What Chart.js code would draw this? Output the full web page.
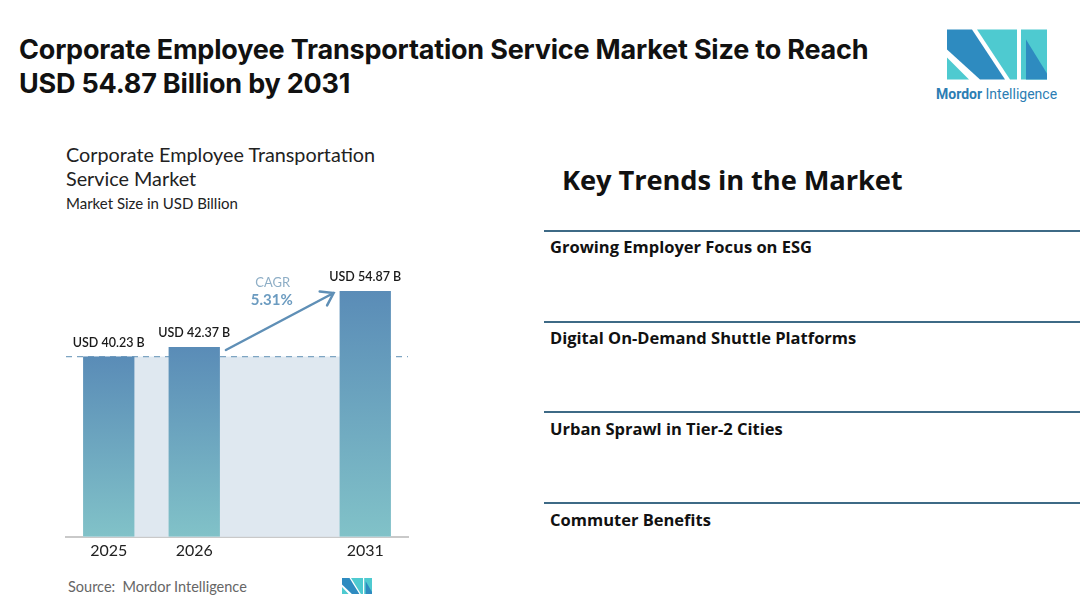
<!DOCTYPE html>
<html>
<head>
<meta charset="utf-8">
<script src="https://cdn.jsdelivr.net/npm/chart.js@4.4.1/dist/chart.umd.min.js"></script>
<style>
  body { margin:0; width:1080px; height:605px; background:#fff; position:relative; overflow:hidden; font-family:Lato, sans-serif; }
  .abs { position:absolute; white-space:nowrap; }
  #title { left:19px; top:33px; font-family:Inter, sans-serif; font-weight:700; font-size:27px; line-height:34px; color:#111; letter-spacing:-0.2px; }
  #sub1 { left:66px; top:142px; font-size:19.8px; line-height:24px; color:#222; }
  #sub2 { left:66px; top:194px; font-size:15px; color:#222; }
  #kt { left:562px; top:161px; font-family:"Open Sans", sans-serif; font-weight:700; font-size:27.3px; color:#111; letter-spacing:-0.1px; }
  .rule { position:absolute; left:544px; width:536px; height:2px; background:#3e6a86; }
  .item { position:absolute; left:550px; font-family:"Open Sans", sans-serif; font-weight:700; font-size:16.5px; color:#111; }
  #src { left:68px; top:578px; font-size:14.5px; color:#666; }
  #brand { left:936px; top:86px; font-family:Roboto, sans-serif; font-size:14px; color:#2c7db3; }
  #wrap { position:absolute; left:40px; top:250px; width:390px; height:320px; }
</style>
</head>
<body>
<div id="title" class="abs">Corporate Employee Transportation Service Market Size to Reach<br>USD 54.87 Billion by 2031</div>

<svg class="abs" style="left:947px;top:29px" width="100" height="51" viewBox="0 0 100 50">
  <polygon points="0,0 25,0 58,50 33,50 0,20" fill="#2e8bc0"/>
  <polygon points="0,28 0,50 22,50" fill="#4ecad0"/>
  <polygon points="30,0 70,0 70,50 63,50" fill="#4ecad0"/>
  <polygon points="74,0 100,0 100,50 74,50" fill="#4ecad0"/>
  <polygon points="79,10 100,44 100,50 79,50" fill="#2e8bc0"/>
</svg>
<div id="brand" class="abs"><span style="font-weight:700">Mordor</span> Intelligence</div>

<div id="sub1" class="abs">Corporate Employee Transportation<br>Service Market</div>
<div id="sub2" class="abs">Market Size in USD Billion</div>

<div id="wrap"><canvas id="chart"></canvas></div>

<div id="src" class="abs">Source: &nbsp;Mordor Intelligence</div>
<svg class="abs" style="left:342px;top:578px" width="30" height="16" viewBox="0 0 100 50" preserveAspectRatio="none">
  <polygon points="0,0 25,0 58,50 33,50 0,20" fill="#2e8bc0"/>
  <polygon points="0,28 0,50 22,50" fill="#4ecad0"/>
  <polygon points="30,0 70,0 70,50 63,50" fill="#4ecad0"/>
  <polygon points="74,0 100,0 100,50 74,50" fill="#4ecad0"/>
  <polygon points="79,10 100,44 100,50 79,50" fill="#2e8bc0"/>
</svg>

<div id="kt" class="abs">Key Trends in the Market</div>
<div class="rule" style="top:230px"></div>
<div class="item" style="top:235px">Growing Employer Focus on ESG</div>
<div class="rule" style="top:321px"></div>
<div class="item" style="top:326px">Digital On-Demand Shuttle Platforms</div>
<div class="rule" style="top:411px"></div>
<div class="item" style="top:417px">Urban Sprawl in Tier-2 Cities</div>
<div class="rule" style="top:502px"></div>
<div class="item" style="top:508px">Commuter Benefits</div>

<script>
const years = ['2025', '2026', '', '2031'];
const marketSize = [40.23, 42.37, null, 54.87];
const valueLabels = ['USD 40.23 B', 'USD 42.37 B', '', 'USD 54.87 B'];
const cagrText = ['CAGR', '5.31%'];

// shaded base area, dashed line, labels and cagr arrow
const decor = {
  id: 'decor',
  beforeDatasetsDraw(chart) {
    const { ctx, chartArea, scales: { x, y } } = chart;
    const bars = chart.getDatasetMeta(0).data;
    const yb = y.getPixelForValue(marketSize[0]);
    const y0 = y.getPixelForValue(0);
    const left = bars[0].x - bars[0].width / 2;
    const right = bars[3].x + bars[3].width / 2;
    ctx.save();
    ctx.fillStyle = '#dfe8f0';
    ctx.fillRect(left, yb, right - left, y0 - yb);
    ctx.strokeStyle = '#7ea5c2';
    ctx.lineWidth = 1.3;
    ctx.setLineDash([6, 5]);
    ctx.beginPath();
    ctx.moveTo(chartArea.left, yb);
    ctx.lineTo(chartArea.right, yb);
    ctx.stroke();
    ctx.restore();
  },
  afterDatasetsDraw(chart) {
    const { ctx, scales: { y } } = chart;
    const bars = chart.getDatasetMeta(0).data;
    ctx.save();
    ctx.fillStyle = '#1a1a1a';
    ctx.font = '600 12.5px Lato';
    ctx.textAlign = 'center';
    ctx.textBaseline = 'middle';
    bars.forEach(function(b, i) {
      if (marketSize[i] == null) return;
      ctx.fillText(valueLabels[i], b.x, b.y - 14);
    });
    // arrow
    const x1 = bars[1].x + bars[1].width / 2 + 6;
    const y1 = y.getPixelForValue(marketSize[1]) + 3;
    const x2 = bars[3].x - bars[3].width / 2 - 6;
    const y2 = y.getPixelForValue(marketSize[3]) + 2;
    ctx.strokeStyle = '#5f8fb6';
    ctx.lineWidth = 2.5;
    ctx.lineCap = 'round';
    ctx.beginPath();
    ctx.moveTo(x1, y1);
    ctx.lineTo(x2, y2);
    const ang = Math.atan2(y2 - y1, x2 - x1);
    const L = 14;
    ctx.moveTo(x2 - L * Math.cos(ang - 0.6), y2 - L * Math.sin(ang - 0.6));
    ctx.lineTo(x2, y2);
    ctx.lineTo(x2 - L * Math.cos(ang + 0.6), y2 - L * Math.sin(ang + 0.6));
    ctx.stroke();
    const mx = (x1 + x2) / 2;
    const my = (y1 + y2) / 2;
    ctx.fillStyle = '#8eaec6';
    ctx.font = '13px Lato';
    ctx.fillText(cagrText[0], mx - 7, my - 39);
    ctx.fillStyle = '#6b9bc0';
    ctx.font = 'bold 15px Lato';
    ctx.fillText(cagrText[1], mx - 8, my - 21);
    ctx.restore();
  }
};

new Chart(document.getElementById('chart'), {
  type: 'bar',
  data: {
    labels: years,
    datasets: [{
      data: marketSize,
      backgroundColor: function(c) {
        const ch = c.chart;
        const a = ch.chartArea;
        if (!a || c.raw == null) return '#6a9fc0';
        const top = ch.scales.y.getPixelForValue(c.raw);
        const g = ch.ctx.createLinearGradient(0, top, 0, a.bottom);
        g.addColorStop(0, '#5a8cb7');
        g.addColorStop(1, '#81c2c8');
        return g;
      },
      borderWidth: 0,
      categoryPercentage: 1,
      barPercentage: 0.6
    }]
  },
  options: {
    responsive: true,
    maintainAspectRatio: false,
    animation: false,
    layout: { padding: { left: 26, right: 22, top: 18, bottom: 14 } },
    plugins: { legend: { display: false }, tooltip: { enabled: false } },
    scales: {
      x: {
        grid: { display: false },
        border: { display: true, color: '#c9c9c9', width: 2 },
        ticks: { color: '#222', font: { family: 'Lato', size: 16 }, padding: -4 }
      },
      y: { display: false, min: 0, max: 60 }
    }
  },
  plugins: [decor]
});
</script>
</body>
</html>
